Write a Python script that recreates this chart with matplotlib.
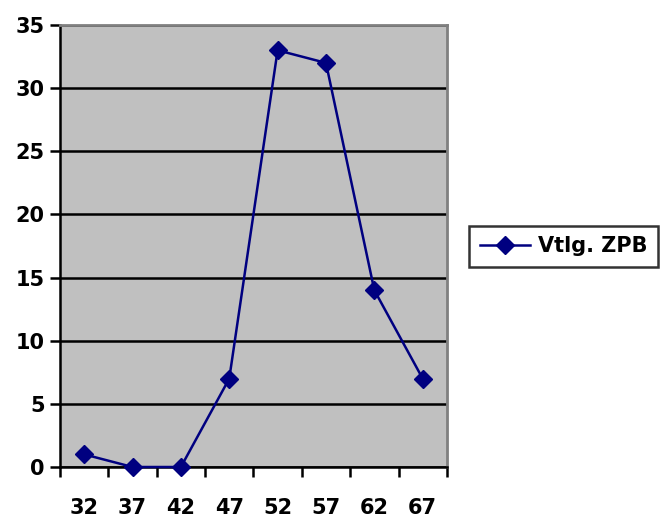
import matplotlib
matplotlib.use("Agg")
import matplotlib.pyplot as plt
import numpy as np

categories = ["32", "37", "42", "47", "52", "57", "62", "67"]
values = [1, 0, 0, 7, 33, 32, 14, 7]
series_name = "Vtlg. ZPB"

plt.rcParams['font.family'] = ['DejaVu Sans']
plt.rcParams['font.weight'] = 'bold'

fig = plt.figure(figsize=(6.63, 5.17), dpi=100)
ax = fig.add_axes([0.0905, 0.0967, 0.5835, 0.8549])
ax.set_facecolor('#c0c0c0')

x = np.arange(len(categories))
ax.plot(x, values, color='#000080', linewidth=1.8, marker='D', markersize=9,
        label=series_name, zorder=3, clip_on=False)

ax.set_xlim(-0.5, len(categories) - 0.5)
ax.set_ylim(0, 35)
ax.set_yticks(np.arange(0, 36, 5))
ax.yaxis.grid(True, color='black', linewidth=1.8)
ax.set_axisbelow(True)

# category labels centred, tick marks on boundaries
ax.set_xticks(x)
ax.set_xticklabels(categories, fontsize=15, fontweight='bold')
ax.tick_params(axis='x', length=0, pad=22)
ax.set_xticks(np.arange(-0.5, len(categories), 1), minor=True)
ax.tick_params(axis='x', which='minor', length=7, width=1.8, direction='out')
ax.tick_params(axis='y', length=7, width=1.8, direction='out', labelsize=15, pad=4)
for lbl in ax.get_yticklabels():
    lbl.set_fontweight('bold')

ax.spines['left'].set_color('black')
ax.spines['bottom'].set_color('black')
ax.spines['left'].set_linewidth(1.8)
ax.spines['bottom'].set_linewidth(1.8)
ax.spines['top'].set_color('#808080')
ax.spines['right'].set_color('#808080')
ax.spines['top'].set_linewidth(2)
ax.spines['right'].set_linewidth(2)

leg = fig.legend(loc='center left', bbox_to_anchor=(0.708, 0.524), fontsize=15,
                 frameon=True, fancybox=False, handlelength=2.4, borderpad=0.5,
                 handletextpad=0.4, borderaxespad=0)
leg.get_frame().set_edgecolor('black')
leg.get_frame().set_linewidth(1.8)
for t in leg.get_texts():
    t.set_fontweight('bold')

fig.savefig('out.png', dpi=100)
